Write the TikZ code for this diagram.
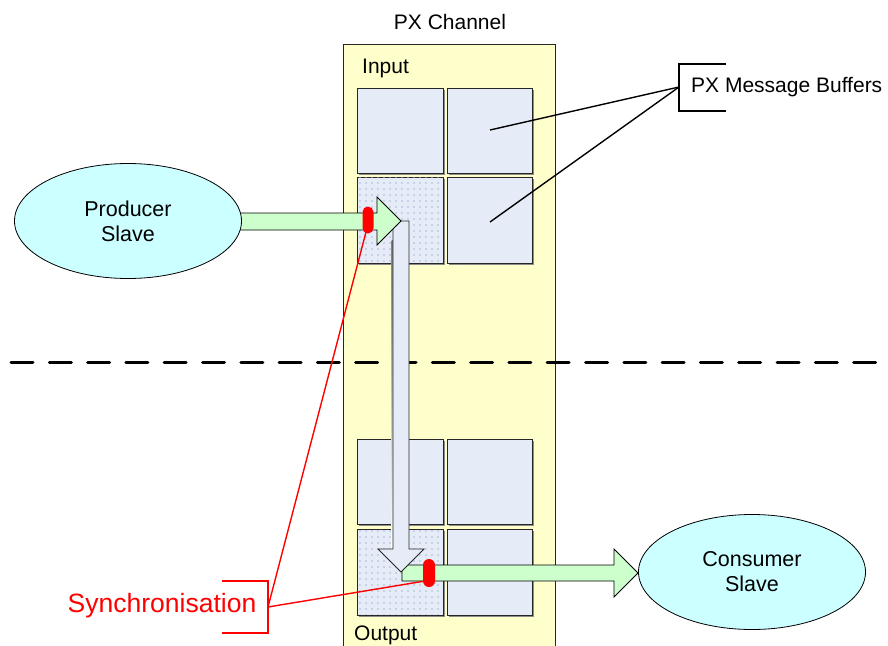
\documentclass[tikz,border=0pt]{standalone}
\usepackage{fontspec}
\setmainfont{Liberation Sans}
\usetikzlibrary{patterns.meta,shapes.geometric}
\definecolor{chan}{HTML}{FFFFCC}
\definecolor{cellc}{HTML}{E6ECF7}
\definecolor{dotc}{HTML}{A9B8D8}
\definecolor{grn}{HTML}{CCFFCC}
\definecolor{cyanf}{HTML}{CCFFFF}
\definecolor{shade}{HTML}{8C8C8C}
\definecolor{syncred}{HTML}{FF0000}
\tikzset{
  txt/.style={font=\fontsize{21}{25}\selectfont, inner sep=0pt},
  cellbox/.style={fill=cellc, draw=black!85, line width=0.9pt},
  dotbox/.style={pattern={Dots[distance=6pt, radius=0.85pt]}, pattern color=dotc},
  shadowbox/.style={fill=shade},
  grnarrow/.style={fill=grn, draw=black, line width=0.8pt, line join=miter},
  bluearrow/.style={fill=cellc, draw=black!85, line width=0.8pt, line join=miter},
  slave/.style={ellipse, fill=cyanf, draw=black, line width=0.8pt, inner sep=0pt, minimum width=227pt, minimum height=115pt, align=center, font=\fontsize{21.5}{25}\selectfont},
  pill/.style={fill=syncred, draw=none, rounded corners=5.5pt, inner sep=0pt, minimum width=11pt, minimum height=27pt},
  redline/.style={draw=syncred, line width=1.4pt},
  blkline/.style={draw=black, line width=1.4pt}
}
\begin{document}
\begin{tikzpicture}[x=1pt,y=-1pt]
\useasboundingbox (0,0) rectangle (888,645);
% channel
\draw[fill=chan, draw=black!85, line width=0.9pt] (343,44) rectangle (555,660);
\node[txt] (title) at (450,22) {PX Channel};
\node[txt, anchor=west] (inp) at (362,68) {Input};
\node[txt, anchor=west] (outp) at (354,635) {Output};
% cells
\foreach \xa/\ya/\xb/\yb/\d in {357/88/443/173/0, 447/88/532/173/0, 357/177/443/263/1, 447/177/532/263/0,
                                 357/439/443/524/0, 447/439/532/524/0, 357/529/443/615/1, 447/529/532/615/0}{
  \fill[shadowbox] (\xa+2,\ya+2) rectangle (\xb+2,\yb+2);
  \draw[cellbox] (\xa,\ya) rectangle (\xb,\yb);
  \ifnum\d=1 \fill[dotbox] (\xa+0.5,\ya+0.5) rectangle (\xb-0.5,\yb-0.5); \fi
}
\coordinate (cellTR) at (490,130);
\coordinate (cellBR) at (490,222);
% dashed separator
\coordinate (dl) at (11,362);
\coordinate (dr) at (880,362);
\draw[line width=3pt, dash pattern=on 22pt off 16.3pt, line cap=round] (dl) -- (dr);
% bottom green arrow
\draw[grnarrow] (402,565) -- (614,565) -- (614,549) -- (638,573) -- (614,597) -- (614,581) -- (402,581) -- cycle;
% vertical arrow (shadow + body)
\fill[shade] (391.5,240) rectangle (393,549);
\draw[bluearrow] (393,221) -- (409,221) -- (409,549) -- (424,549) -- (401,572) -- (378,549) -- (393,549) -- cycle;
% top green arrow
\draw[grnarrow] (232,213) -- (377,213) -- (377,197) -- (401,221) -- (377,245) -- (377,230) -- (232,230) -- cycle;
% slaves
\node[slave] (prod) at (128,221) {Producer\\Slave};
\node[slave] (cons) at (752,572) {Consumer\\Slave};
% message buffers label
\node[txt, anchor=west] (pxmb) at (691,87) {PX Message Buffers};
\coordinate (mbA) at (679,87);
\draw[line width=2.6pt, line cap=butt, line join=miter] (726,64) -- (679,64) -- (679,111) -- (726,111);
\draw[blkline] (mbA) -- (cellTR);
\draw[blkline] (mbA) -- (cellBR);
% synchronisation
\coordinate (sync) at (268,607);
\coordinate (s1e) at (366,232);
\coordinate (s2e) at (425,581);
\draw[redline] (s1e) -- (sync);
\draw[redline] (s2e) -- (sync);
\node[pill] (s1) at (368,220) {};
\node[pill, minimum width=12pt, minimum height=28pt, rounded corners=6pt] (s2) at (429,573) {};
\draw[redline, line join=miter] (222,581) -- (268,581) -- (268,633) -- (222,633);
\node[txt, text=syncred, font=\fontsize{26.5}{30}\selectfont] (synctxt) at (162,606) {Synchronisation};
\end{tikzpicture}
\end{document}
